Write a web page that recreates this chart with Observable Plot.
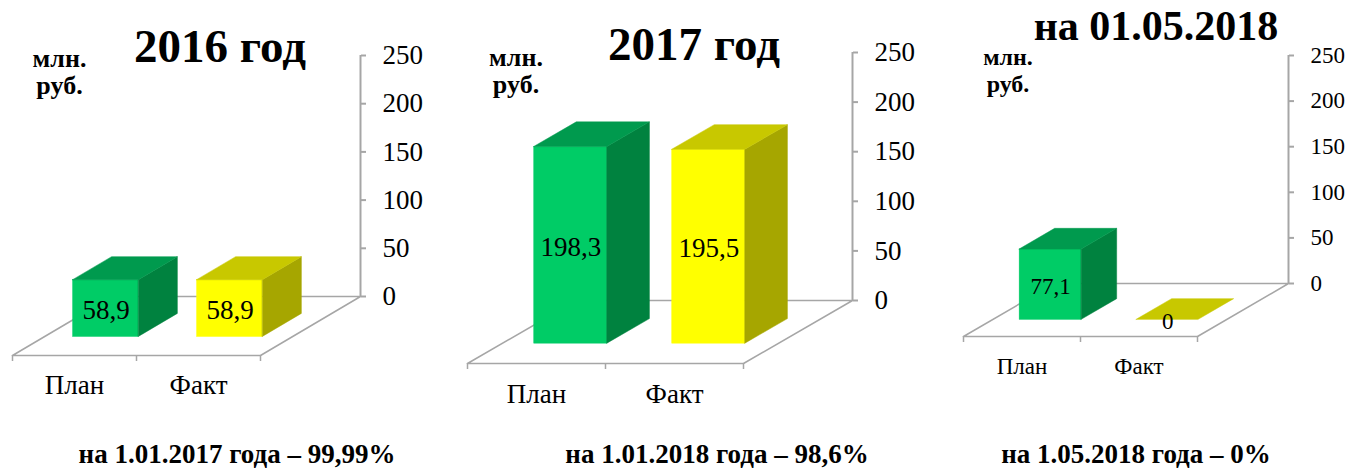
<!DOCTYPE html>
<html>
<head>
<meta charset="utf-8">
<script src="https://cdn.jsdelivr.net/npm/d3@7"></script>
<script src="https://cdn.jsdelivr.net/npm/@observablehq/plot@0.6"></script>
<style>
html, body { margin: 0; padding: 0; background: #fff; }
#root { position: relative; width: 1347px; height: 471px; overflow: hidden;
  font-family: "Liberation Serif", "Times New Roman", serif; color: #000; }
.txt { position: absolute; white-space: nowrap; line-height: 1; transform: translateX(-50%);
  font-family: "Liberation Serif", "Times New Roman", serif; }
#root svg { position: absolute; top: 0; overflow: visible; }
</style>
</head>
<body>
<div id="root"></div>
<script>
// ---- data ----
const categories = ["План", "Факт"];
const values2016 = [58.9, 58.9];
const values2017 = [198.3, 195.5];
const values2018 = [77.1, 0];
const titles = ["2016 год", "2017 год", "на 01.05.2018"];
const footers = ["на 1.01.2017 года – 99,99%", "на 1.01.2018 года – 98,6%", "на 1.05.2018 года – 0%"];
const unitLines = ["млн.", "руб."];
const yTicks = [0, 50, 100, 150, 200, 250];

// ---- styles ----
const FONT = "Liberation Serif";
const frontColors = ["#00cc66", "#ffff00"];
const sideColors = ["#00823f", "#a6a600"];
const topColors = ["#009a4e", "#c8c800"];
const gridGray = "#a6a6a6";

// ---- layout (pixel geometry of each 3D panel) ----
const layouts = [
  {left: 0, width: 449, floorLeft: 12, floorRight: 260, floorY: 355, axisX: 360, y0: 296, yTop: 55, fs: 27, labBase: 38,
   titleX: 220, titleY: 62, titleFs: 47, unitX: 59.5, unitY: 68, unitFs: 26, footX: 237, footY: 464},
  {left: 449, width: 470, floorLeft: 467, floorRight: 743, floorY: 363, axisX: 852, y0: 300, yTop: 52, fs: 27, labBase: 39,
   titleX: 694, titleY: 60, titleFs: 47, unitX: 516, unitY: 67, unitFs: 26, footX: 717, footY: 464},
  {left: 898, width: 449, floorLeft: 963, floorRight: 1197, floorY: 336, axisX: 1288, y0: 283, yTop: 55, fs: 23, labBase: 37,
   titleX: 1156, titleY: 40, titleFs: 42, unitX: 1008, unitY: 65, unitFs: 24, footX: 1136, footY: 464}
];
const seriesList = [values2016, values2017, values2018];

const root = document.getElementById("root");
const H = 471;
const Z0 = 0.315, Z1 = 0.705, HALF = 0.265;
const fmt = v => String(v).replace(".", ",");

function addText(str, cx, baseline, fs, bold) {
  const d = document.createElement("div");
  d.className = "txt";
  d.textContent = str;
  d.style.left = cx + "px";
  d.style.top = (baseline - 0.8375 * fs) + "px";
  d.style.fontSize = fs + "px";
  d.style.fontWeight = bold ? "bold" : "normal";
  root.appendChild(d);
}

layouts.forEach((L, p) => {
  const values = seriesList[p];
  const yMax = d3.max(yTicks);
  const band = (L.floorRight - L.floorLeft) / categories.length;
  const kx = (L.axisX - L.floorRight) / band;
  const s = (L.y0 - L.yTop) / yMax;
  const ky = (L.floorY - L.y0) / s;
  const n = categories.length;
  const P = (x, z, v) => ({x: x + z * kx, y: v - (1 - z) * ky});

  const floor = [P(0, 0, 0), P(n, 0, 0), P(n, 1, 0), P(0, 1, 0), P(0, 0, 0)];

  const marks = [
    Plot.line(floor, {x: "x", y: "y", stroke: gridGray, strokeWidth: 1.5}),
    Plot.ruleX([n + kx], {y1: 0, y2: yMax, stroke: gridGray, strokeWidth: 2}),
    Plot.axisY(yTicks, {anchor: "right", tickSize: 5, tickPadding: 17, stroke: gridGray, strokeWidth: 2,
      fill: "#000", fontSize: L.fs, fontFamily: FONT, label: null, tickFormat: d => String(d)}),
    Plot.axisX(d3.range(n + 1), {anchor: "bottom", tickSize: 6, fill: "none", stroke: gridGray, strokeWidth: 1.5, label: null}),
    Plot.axisX(categories.map((c, i) => i + 0.5), {anchor: "bottom", tickSize: 0, tickPadding: L.labBase - 0.71 * L.fs,
      tickFormat: d => categories[Math.floor(d)], fill: "#000", fontSize: L.fs, fontFamily: FONT, label: null})
  ];

  values.forEach((v, i) => {
    const x0 = i + 0.5 - HALF, x1 = i + 0.5 + HALF;
    if (v > 0) {
      marks.push(Plot.rect([{x1: x0 + Z0 * kx, x2: x1 + Z0 * kx, y1: -(1 - Z0) * ky, y2: v - (1 - Z0) * ky}],
        {x1: "x1", x2: "x2", y1: "y1", y2: "y2", fill: frontColors[i], stroke: frontColors[i], strokeWidth: 0.5}));
      marks.push(Plot.areaY([
          {x: x1 + Z0 * kx, y1: -(1 - Z0) * ky, y2: v - (1 - Z0) * ky},
          {x: x1 + Z1 * kx, y1: -(1 - Z1) * ky, y2: v - (1 - Z1) * ky}],
        {x: "x", y1: "y1", y2: "y2", fill: sideColors[i], stroke: sideColors[i], strokeWidth: 0.5}));
    }
    marks.push(Plot.areaX([
        {y: v - (1 - Z0) * ky, x1: x0 + Z0 * kx, x2: x1 + Z0 * kx},
        {y: v - (1 - Z1) * ky, x1: x0 + Z1 * kx, x2: x1 + Z1 * kx}],
      {y: "y", x1: "x1", x2: "x2", fill: topColors[i], stroke: topColors[i], strokeWidth: 0.5}));
    marks.push(Plot.text([{x: i + 0.5 + Z0 * kx, y: v / 2 - (1 - Z0) * ky, t: fmt(v)}],
      {x: "x", y: "y", text: "t", fontSize: L.fs, fontFamily: FONT, fill: "#000", dy: 2}));
  });

  const chart = Plot.plot({
    width: L.width,
    height: H,
    marginLeft: L.floorLeft - L.left,
    marginRight: L.left + L.width - L.axisX,
    marginTop: L.yTop,
    marginBottom: H - L.floorY,
    x: {domain: [0, n + kx], label: null},
    y: {domain: [-ky, yMax], label: null},
    style: {background: "transparent", overflow: "visible", color: "#000", fontFamily: FONT},
    marks
  });
  chart.style.left = L.left + "px";
  chart.style.maxWidth = "none";
  root.appendChild(chart);

  addText(titles[p], L.titleX, L.titleY, L.titleFs, true);
  unitLines.forEach((u, k) => addText(u, L.unitX, L.unitY + 27 * k, L.unitFs, true));
  addText(footers[p], L.footX, L.footY, 27, true);
});
</script>
</body>
</html>
